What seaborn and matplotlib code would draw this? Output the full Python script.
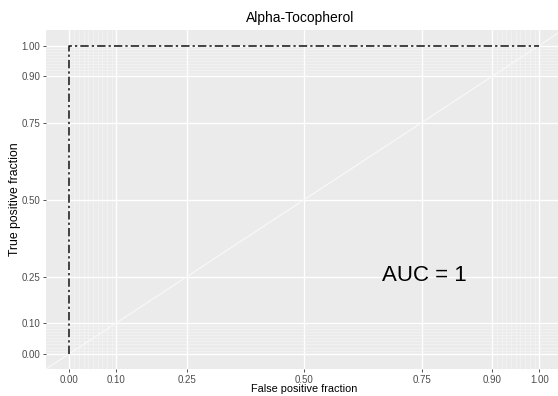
import numpy as np
import pandas as pd
import matplotlib
matplotlib.use("Agg")
import matplotlib.pyplot as plt
import seaborn as sns

# ROC curve coordinates
false_positive_fraction = [0.0, 0.0, 1.0]
true_positive_fraction = [0.0, 1.0, 1.0]
auc_value = 1

major_breaks = [0.0, 0.10, 0.25, 0.50, 0.75, 0.90, 1.00]
major_labels = ["0.00", "0.10", "0.25", "0.50", "0.75", "0.90", "1.00"]
minor_breaks = sorted(set(np.round(np.r_[np.arange(0, 0.101, 0.01), np.arange(0.9, 1.001, 0.01)], 2)))

sns.set_theme(style="darkgrid", rc={
    "axes.facecolor": "#EBEBEB",
    "grid.color": "white",
})
plt.rcParams["font.family"] = ["Liberation Sans", "DejaVu Sans"]

roc = pd.DataFrame({"fpf": false_positive_fraction, "tpf": true_positive_fraction})

fig = plt.figure(figsize=(5.58, 3.96), dpi=100)
ax = fig.add_axes([0.0824, 0.068, 0.926, 0.856])

ax.set_xlim(-0.05, 1.05)
ax.set_ylim(-0.05, 1.05)

ax.set_xticks(major_breaks)
ax.set_xticklabels(major_labels)
ax.set_yticks(major_breaks)
ax.set_yticklabels(major_labels)
ax.set_xticks(minor_breaks, minor=True)
ax.set_yticks(minor_breaks, minor=True)
ax.grid(True, which="major", color="white", linewidth=1.0)
ax.grid(True, which="minor", color="#F6F6F6", linewidth=0.45)
ax.set_axisbelow(True)

# reference diagonal
ax.plot([-0.05, 1.05], [-0.05, 1.05], color="#F8F8F8", linewidth=0.9, zorder=1)

sns.lineplot(data=roc, x="fpf", y="tpf", ax=ax, color="#111111", linewidth=1.1,
             sort=False, estimator=None, linestyle=(0, (5.5, 2, 1.5, 2)), zorder=3)

ax.text(0.666, 0.253, f"AUC = {auc_value}", fontsize=16, color="black",
        ha="left", va="center")

ax.tick_params(axis="both", which="major", length=2.5, width=0.6, color="#333333",
               labelsize=7, labelcolor="#4D4D4D", pad=1.5, bottom=True, left=True)
ax.tick_params(axis="both", which="minor", length=0)
for s in ax.spines.values():
    s.set_visible(False)

ax.set_xlabel("False positive fraction", fontsize=7.8, color="black", labelpad=-0.5)
ax.set_ylabel("True positive fraction", fontsize=8.8, color="black", labelpad=0.5)
fig.text(0.538, 0.955, "Alpha-Tocopherol", fontsize=10, ha="center", va="center", color="black")

fig.savefig("out.png", dpi=100)
